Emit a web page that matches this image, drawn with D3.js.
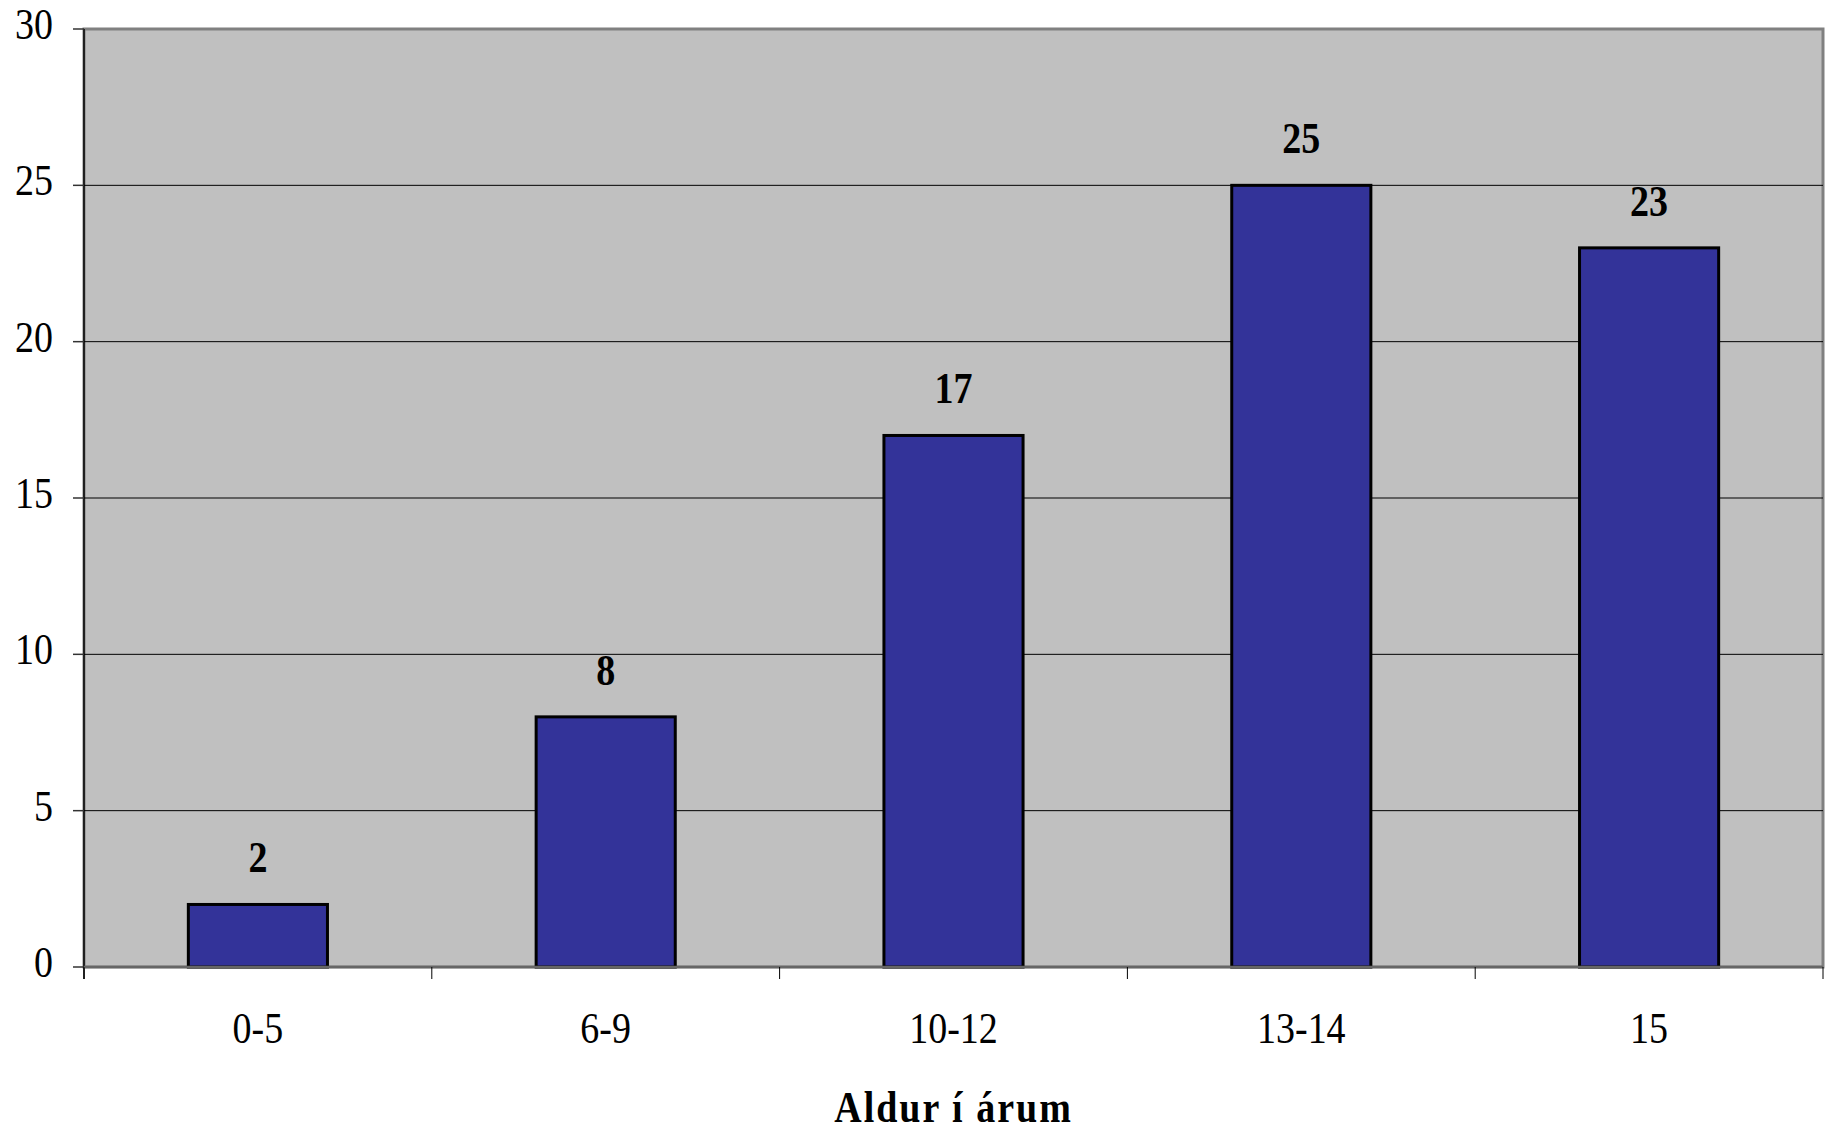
<!DOCTYPE html>
<html><head><meta charset="utf-8">
<script src="https://cdn.jsdelivr.net/npm/d3@7"></script>
<style>body{margin:0;background:#fff}svg{display:block}</style>
</head><body>
<script>
const categories = ["0-5", "6-9", "10-12", "13-14", "15"];
const values = [2, 8, 17, 25, 23];
const yTicks = [0, 5, 10, 15, 20, 25, 30];
const xTitle = "Aldur í árum";

const W = 1831, H = 1132;
const m = {left: 84, right: 8, top: 29, bottom: 165};
const pw = W - m.left - m.right, ph = H - m.top - m.bottom;
const FONT = "'Liberation Serif', 'Times New Roman', serif";
const SY = 1.14;

const svg = d3.select("body").append("svg").attr("width", W).attr("height", H);
const g = svg.append("g").attr("transform", `translate(${m.left},${m.top})`);

const x = d3.scaleBand().domain(categories).range([0, pw]).paddingInner(0.6).paddingOuter(0.3);
const xo = d3.scaleBand().domain(categories).range([0, pw]);
const y = d3.scaleLinear().domain([0, 30]).range([ph, 0]);

g.append("rect").attr("width", pw).attr("height", ph).attr("fill", "#c0c0c0")
  .attr("stroke", "#808080").attr("stroke-width", 3);

// gridlines
g.selectAll(".grid").data(yTicks.filter(d => d > 0 && d < 30)).join("line")
  .attr("x1", 0).attr("x2", pw).attr("y1", d => y(d)).attr("y2", d => y(d))
  .attr("stroke", "#000").attr("stroke-width", 1);

// bars
g.selectAll(".bar").data(values).join("rect")
  .attr("x", (d, i) => x(categories[i])).attr("width", x.bandwidth())
  .attr("y", d => y(d)).attr("height", d => ph - y(d))
  .attr("fill", "#333399").attr("stroke", "#000").attr("stroke-width", 3);

// value labels
g.selectAll(".lbl").data(values).join("text")
  .attr("transform", (d, i) => `translate(${x(categories[i]) + x.bandwidth() / 2},${y(d) - 32}) scale(1,${SY})`)
  .attr("text-anchor", "middle")
  .attr("font-family", FONT)
  .attr("font-weight", "bold").attr("font-size", 38)
  .text(d => d);

// y axis
const ya = g.append("g");
ya.append("line").attr("x1", 0).attr("x2", 0).attr("y1", 0).attr("y2", ph + 12)
  .attr("stroke", "#000").attr("stroke-width", 1.5);
ya.selectAll(".yt").data(yTicks).join("line")
  .attr("x1", -11).attr("x2", 0).attr("y1", d => y(d)).attr("y2", d => y(d))
  .attr("stroke", "#333").attr("stroke-width", 1.5);
ya.selectAll(".yl").data(yTicks).join("text")
  .attr("transform", d => `translate(-31,${y(d) + 10}) scale(1,${SY})`)
  .attr("text-anchor", "end")
  .attr("font-family", FONT).attr("font-size", 38).attr("fill", "#000")
  .text(d => d);

// x axis
const xa = g.append("g").attr("transform", `translate(0,${ph})`);
xa.append("line").attr("x1", 0).attr("x2", pw).attr("stroke", "#666").attr("stroke-width", 2.5);
const bounds = categories.map(c => xo(c)).concat([pw]);
xa.selectAll(".xt").data(bounds).join("line")
  .attr("x1", d => d).attr("x2", d => d).attr("y1", 0).attr("y2", 12)
  .attr("stroke", "#000").attr("stroke-width", 1);
xa.selectAll(".xl").data(categories).join("text")
  .attr("transform", d => `translate(${xo(d) + xo.bandwidth() / 2},76) scale(1,${SY})`)
  .attr("text-anchor", "middle")
  .attr("font-family", FONT)
  .attr("font-size", 38).text(d => d);

svg.append("text")
  .attr("transform", `translate(${m.left + pw / 2},1122) scale(1,${SY})`)
  .attr("text-anchor", "middle")
  .attr("font-family", FONT)
  .attr("font-weight", "bold").attr("font-size", 38).attr("letter-spacing", 2)
  .text(xTitle);
</script>
</body></html>
